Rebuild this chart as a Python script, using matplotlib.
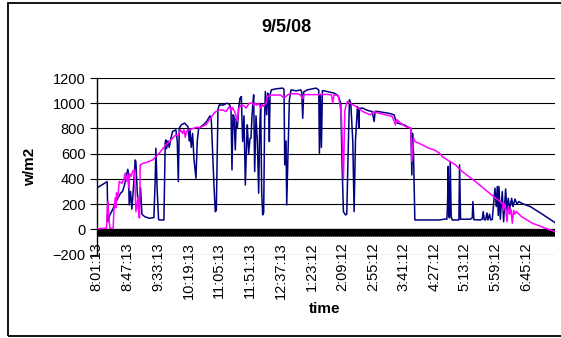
import numpy as np
import matplotlib
matplotlib.use("Agg")
import matplotlib.pyplot as plt
from matplotlib.patches import Rectangle

plt.rcParams["font.family"] = ["Liberation Sans", "DejaVu Sans"]

# Samples are one minute apart, starting at 8:01:13; x values are sample index (minutes).
n_samples = 688
tick_labels = ["8:01:13", "8:47:13", "9:33:13", "10:19:13", "11:05:13", "11:51:13",
               "12:37:13", "1:23:12", "2:09:12", "2:55:12", "3:41:12", "4:27:12",
               "5:13:12", "5:59:12", "6:45:12"]
label_step = 46

# Sensor A (navy): vertices of the logged irradiance trace
sensor_a_min = [0, 16, 17, 20, 24, 28, 32, 36, 39, 42, 45, 47, 48, 49, 51, 53, 55, 58, 59, 61,
                63, 64, 66, 68, 72, 79, 86, 88, 89, 91, 93, 94, 101, 103, 104, 105, 107, 109,
                111, 114, 119, 121, 122.6, 124, 127, 132, 137, 139, 140, 142, 144, 146, 149,
                151, 153, 160, 165, 170, 172, 174, 176, 178, 179.5, 182, 184, 190, 195, 199,
                201.5, 203, 204.5, 206, 208, 209.5, 211, 213, 215, 217, 219, 221, 223, 225,
                226, 228, 230, 231.5, 233, 234, 235.5, 237, 239, 241, 243, 244.5, 246, 247.5,
                249, 250.5, 252, 253, 255, 256.5, 258, 259, 260, 262, 269, 279, 281, 282, 284,
                285, 287, 289, 291.5, 299, 306, 307.5, 309, 310.5, 316, 329, 333, 334, 335.5,
                337, 338.5, 341, 349, 356, 360, 362, 366, 368, 370, 373, 375, 377, 379, 381,
                383, 384, 386, 388, 391, 392, 393, 394, 399, 404, 408, 413, 416, 417.5, 421,
                428, 438, 446, 448, 451, 461, 468, 471, 472.5, 473.5, 475, 477, 483, 514, 523,
                525, 526, 527, 528, 529, 530, 531.5, 533, 543, 544, 545.5, 560, 563, 564,
                565.5, 575, 578, 579.5, 581, 583, 585, 586.5, 589, 590.5, 593, 595, 597, 599,
                600.5, 602, 603, 605, 608, 610, 613, 615, 617, 619, 622, 624, 627, 630, 633,
                637, 650, 665, 687]
sensor_a_wm2 = [326, 378, 61, 114, 154, 206, 246, 286, 300, 352, 431, 476, 431, 193, 300, 160,
                300, 550, 537, 300, 167, 154, 330, 120, 101, 87, 93, 400, 643, 300, 80, 74, 74,
                690, 709, 640, 700, 650, 709, 776, 789, 700, 378, 802, 828, 842, 815, 700, 790,
                650, 760, 560, 405, 700, 800, 828, 855, 900, 870, 600, 350, 140, 150, 950, 987,
                985, 1000, 993, 960, 471, 908, 900, 630, 881, 800, 961, 1040, 1053, 696, 900,
                352, 700, 828, 600, 720, 723, 900, 974, 1067, 458, 900, 700, 286, 800, 987,
                300, 114, 130, 900, 1093, 908, 1080, 990, 696, 1067, 1106, 1114, 1120, 1110,
                511, 700, 193, 600, 1027, 1106, 1098, 1106, 1090, 881, 1090, 1106, 1120, 1105,
                603, 1070, 650, 1100, 1098, 1088, 1080, 1067, 1060, 1000, 500, 140, 114, 120,
                600, 1027, 1000, 800, 700, 140, 700, 974, 950, 802, 960, 961, 948, 940, 934,
                855, 935, 935, 929, 920, 908, 868, 842, 828, 807, 802, 431, 762, 600, 74, 74,
                74, 82, 80, 200, 498, 100, 90, 537, 100, 74, 74, 511, 80, 80, 90, 220, 76, 74,
                80, 140, 76, 74, 130, 74, 120, 74, 78, 200, 326, 180, 339, 110, 340, 80, 299,
                60, 320, 150, 246, 160, 246, 180, 240, 200, 220, 206, 180, 130, 53]

# Sensor B (magenta): vertices of the second irradiance trace
sensor_b_min = [0, 12, 15, 16, 17, 18.5, 20, 25, 26, 28, 29, 30, 32, 34, 38, 39, 41, 43, 45,
                47, 48, 50, 52, 54, 56, 57, 58, 59, 61, 62, 63.5, 64.5, 65.5, 70, 75, 84, 89,
                94, 104, 110, 119, 122, 126, 129, 131, 133, 135, 140, 145, 150, 155, 160, 164,
                171, 176, 179, 184, 190, 194, 199, 201.5, 204, 208, 211, 213, 217, 221, 224,
                229, 234, 236, 238, 240, 243, 246, 248, 250, 254, 256, 261, 276, 278, 281, 284,
                286, 290, 300, 305, 309, 311, 330, 345, 352, 354, 356, 362, 364, 367, 370, 372,
                374, 376, 380, 389, 399, 410, 416, 420, 433, 443, 448, 450, 455, 463, 471,
                472.5, 475, 477.4, 488, 498, 506, 514, 518, 528, 538, 548, 558, 568, 583, 598,
                605, 608, 610, 611, 613, 615, 617, 619, 621, 623, 625, 627, 629, 633, 637, 653,
                687]
sensor_b_wm2 = [3, 8, 10, 150, 220, 100, 8, 10, 140, 250, 170, 290, 250, 380, 365, 378, 400,
                445, 380, 440, 330, 440, 420, 458, 470, 470, 300, 140, 200, 250, 100, 90, 511,
                524, 530, 550, 577, 603, 670, 700, 750, 740, 789, 760, 790, 730, 780, 790, 800,
                810, 805, 820, 828, 881, 920, 934, 947, 945, 934, 974, 940, 965, 920, 855, 960,
                985, 980, 961, 1000, 1000, 980, 1000, 985, 1000, 961, 990, 975, 1000, 1053,
                1065, 1065, 1055, 1040, 1055, 1065, 1075, 1075, 1068, 1035, 1068, 1068, 1070,
                1066, 1005, 1066, 1060, 1014, 900, 405, 934, 987, 1014, 1000, 974, 934, 908,
                934, 925, 908, 895, 828, 870, 845, 815, 802, 537, 723, 696, 670, 643, 630, 603,
                577, 543, 511, 458, 418, 378, 312, 246, 220, 206, 150, 200, 167, 60, 180, 120,
                160, 48, 150, 120, 140, 120, 100, 48, -19]

y_ticks = [-200, 0, 200, 400, 600, 800, 1000, 1200]

W, H = 561, 338
fig = plt.figure(figsize=(W / 100, H / 100), dpi=100)
fig.patch.set_facecolor("white")

# chart border
fig.add_artist(Rectangle((7.5 / W, 1 - 336 / H), 1.0, (336 - 3) / H,
                         transform=fig.transFigure, fill=False, edgecolor="black",
                         linewidth=1.3, clip_on=False))

left, right, top, bottom = 96.5, 555, 78, 254.5
ax = fig.add_axes([left / W, 1 - bottom / H, (right - left) / W, (bottom - top) / H])
ax.set_facecolor("white")
ax.set_xlim(0, n_samples - 1)
ax.set_ylim(-200, 1200)

for yv in y_ticks:
    ax.axhline(yv, color="black", linewidth=0.8, zorder=1)

# category axis at zero with one tick per sample
ax.axhline(0, color="black", linewidth=0.9, zorder=2)
ax.vlines(np.arange(n_samples), -50, 0, color="black", linewidth=0.8, zorder=2)

ax.plot(sensor_a_min, sensor_a_wm2, color="#000080", linewidth=1.1, zorder=3)
ax.plot(sensor_b_min, sensor_b_wm2, color="#FF00FF", linewidth=1.1, zorder=4)

for side in ("top", "right", "bottom"):
    ax.spines[side].set_visible(False)
ax.spines["left"].set_color("black")
ax.spines["left"].set_linewidth(1.0)

ax.set_yticks(y_ticks)
ax.tick_params(axis="y", direction="out", length=5, width=0.8, labelsize=10.5, pad=3)

ax.set_xticks([])
for i, lab in enumerate(tick_labels):
    ax.text(i * label_step, -100, lab, rotation=90, ha="center", va="top",
            fontsize=10.5, clip_on=False)

fig.text(286 / W, 1 - 28 / H, "9/5/08", ha="center", va="center",
         fontsize=13, fontweight="bold")
fig.text(30 / W, 1 - 167 / H, "w/m2", ha="center", va="center", rotation=90,
         fontsize=11, fontweight="bold")
fig.text(325 / W, 1 - 309 / H, "time", ha="center", va="center",
         fontsize=11, fontweight="bold")

fig.savefig("out.png", dpi=100, facecolor="white")
